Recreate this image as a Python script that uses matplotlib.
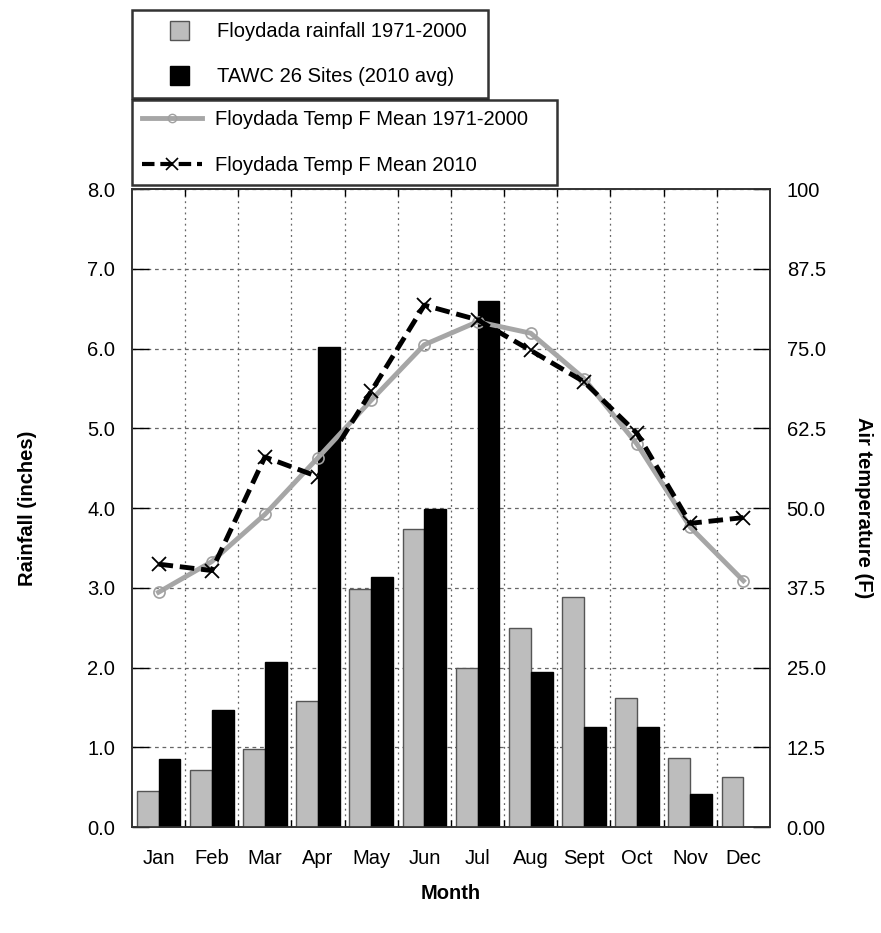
import numpy as np
import matplotlib
matplotlib.use("Agg")
import matplotlib.pyplot as plt
from matplotlib.lines import Line2D
from matplotlib.patches import Patch, Rectangle
from matplotlib.legend_handler import HandlerPatch

plt.rcParams['font.family'] = ['Liberation Sans', 'DejaVu Sans']

months = ['Jan', 'Feb', 'Mar', 'Apr', 'May', 'Jun', 'Jul', 'Aug', 'Sept', 'Oct', 'Nov', 'Dec']
rain_normal = [0.45, 0.72, 0.98, 1.58, 2.99, 3.74, 2.00, 2.49, 2.88, 1.62, 0.86, 0.63]
rain_tawc = [0.85, 1.47, 2.07, 6.02, 3.14, 3.99, 6.59, 1.94, 1.25, 1.25, 0.41, np.nan]
temp_normal = [36.8, 41.6, 49.0, 57.9, 66.9, 75.6, 79.2, 77.4, 70.3, 60.0, 47.0, 38.6]
temp_2010 = [41.2, 40.2, 58.0, 54.9, 68.3, 81.8, 79.5, 74.7, 69.8, 61.7, 47.6, 48.5]

left_ticks = np.arange(0, 8.01, 1.0)
right_ticks = np.arange(0, 100.01, 12.5)
right_labels = ['0.00', '12.5', '25.0', '37.5', '50.0', '62.5', '75.0', '87.5', '100']

fs = 14.5
fig = plt.figure(figsize=(8.81, 9.33), dpi=100)
ax = fig.add_axes([0.1498, 0.1136, 0.7242, 0.6838])

x = np.arange(len(months))
w = 0.41
tawc = np.array(rain_tawc)
ok = ~np.isnan(tawc)
ax.bar(x - w / 2, rain_normal, w, color='#bdbdbd', edgecolor='#555555', linewidth=1, zorder=3)
ax.bar(x[ok] + w / 2, tawc[ok], w, color='black', edgecolor='black', linewidth=1, zorder=3)

ax.set_xlim(-0.5, 11.5)
ax.set_ylim(0, 8)
ax.set_yticks(left_ticks)
ax.set_yticklabels([f'{v:.1f}' for v in left_ticks])
ax.set_xticks(np.arange(0.5, 11.5, 1.0))
ax.set_xticklabels([])
ax.set_xticks(x, minor=True)
ax.set_xticklabels(months, minor=True)
ax.tick_params(axis='x', which='minor', length=0, pad=16, labelsize=fs)
ax.tick_params(axis='x', which='major', direction='in', length=5, top=True, width=1)
ax.tick_params(axis='y', direction='in', length=12, width=1, labelsize=fs, pad=12)

ax.yaxis.grid(True, linestyle=(0, (3, 3)), color='#666666', linewidth=0.9, zorder=0)
ax.xaxis.grid(True, which='major', linestyle=(0, (1.5, 3)), color='#666666', linewidth=0.9, zorder=0)
ax.set_axisbelow(True)
for s in ax.spines.values():
    s.set_linewidth(1.2)
    s.set_color('#333333')

ax.set_ylabel('Rainfall (inches)', fontsize=fs, fontweight='bold', labelpad=36)
ax.set_xlabel('Month', fontsize=fs, fontweight='bold', labelpad=11)

ax2 = ax.twinx()
ax2.set_ylim(0, 100)
ax2.set_yticks(right_ticks)
ax2.set_yticklabels(right_labels)
ax2.tick_params(axis='y', direction='in', length=12, width=1, labelsize=fs, pad=12)
ax2.plot(x, temp_normal, color='#a6a6a6', linewidth=3.5, marker='o', markersize=8,
         markerfacecolor='none', markeredgecolor='#a0a0a0', markeredgewidth=1.2, zorder=4)
ax2.plot(x, temp_2010, color='black', linewidth=3.5, linestyle=(0, (3, 1.4)), marker='x',
         markersize=10, markeredgewidth=1.3, zorder=5)
ax2.set_ylabel('Air temperature (F)', fontsize=fs, fontweight='bold', rotation=270, labelpad=34)
for s in ax2.spines.values():
    s.set_linewidth(1.2)
    s.set_color('#333333')


# square legend swatch sitting away from the text, as in the original
def square_swatch(legend, orig_handle, xdescent, ydescent, width, height, fontsize):
    side = 0.95 * fontsize
    return Rectangle((width - side - 0.55 * fontsize - 6, height / 2 - side / 2 - 0.5), side, side)


h1 = [Patch(facecolor='#bdbdbd', edgecolor='#555555'), Patch(facecolor='black', edgecolor='black')]
l1 = ['Floydada rainfall 1971-2000', 'TAWC 26 Sites (2010 avg)']
leg1 = fig.legend(h1, l1, loc='upper left', bbox_to_anchor=(132 / 881, 1 - 10 / 933, 356 / 881, 0.0),
                  mode='expand', fontsize=fs, frameon=True, fancybox=False, edgecolor='black',
                  handlelength=3.2, handletextpad=0.4, borderpad=0.6,
                  labelspacing=1.3, borderaxespad=0,
                  handler_map={Patch: HandlerPatch(patch_func=square_swatch)})
leg1.get_frame().set_linewidth(1.8)

h2 = [Line2D([], [], color='#a6a6a6', linewidth=3.5, marker='o', markersize=6,
             markerfacecolor='none', markeredgecolor='#a0a0a0'),
      Line2D([], [], color='black', linewidth=3, linestyle=(0, (3, 1.4)), marker='x',
             markersize=8, markeredgewidth=1.2)]
l2 = ['Floydada Temp F Mean 1971-2000', 'Floydada Temp F Mean 2010']
leg2 = fig.legend(h2, l2, loc='upper left', bbox_to_anchor=(132 / 881, 1 - 100 / 933, 425 / 881, 0.0),
                  mode='expand', fontsize=fs, frameon=True, fancybox=False, edgecolor='black',
                  handlelength=3.0, handletextpad=0.6, borderpad=0.5,
                  labelspacing=1.35, borderaxespad=0)
leg2.get_frame().set_linewidth(1.8)

fig.savefig('out.png', dpi=100)
